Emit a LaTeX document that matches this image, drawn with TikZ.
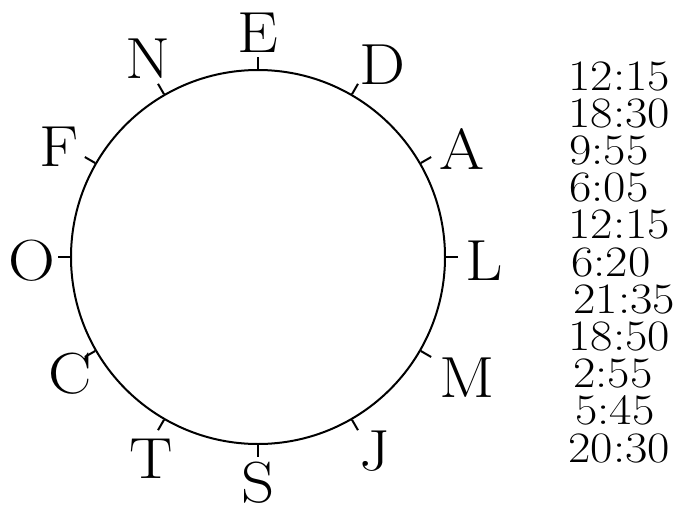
\documentclass[tikz,border=0pt]{standalone}
\usetikzlibrary{calc,positioning}
\newcommand{\widetext}[1]{\scalebox{1.12}[1]{#1}}
\begin{document}
\begin{tikzpicture}[x=0.5pt,y=0.5pt,
	dial node/.style={circle, draw=black, line width=1pt, inner sep=0pt, minimum size=187pt},
	letter node/.style={inner sep=0pt, font=\fontsize{29}{32}\selectfont},
	time node/.style={inner sep=0pt, anchor=base west, font=\fontsize{21.7}{24}\selectfont},
	tick line/.style={line width=1pt}]
	\useasboundingbox (0,0) rectangle (675,505);
	
	\node[dial node] (dial) at (258,248) {};
	\foreach \a in {0,30,...,330}
		\draw[tick line] (dial.\a) -- ++(\a:12);
	
	% letters round the dial
	\foreach \t/\a/\r in {E/90/224, D/57/229, A/28/231, L/359/226, M/330/241, J/301/227,
		S/270/226, T/242/228, C/212/221, O/181/226, F/151/227, N/119/227}
		\path (dial.center) ++(\a:\r) node[letter node] (\t) {\widetext{\t}};
	
	% times
	\foreach \t/\x [count=\i] in {12:15/568, 18:30/568, 9:55/569, 6:05/569, 12:15/568, 6:20/571,
		21:35/573, 18:50/568, 2:55/573, 5:45/575, 20:30/568}
		\node[time node] (t\i) at (\x,{415-37.2*(\i-1)}) {\widetext{\t}};
\end{tikzpicture}
\end{document}
